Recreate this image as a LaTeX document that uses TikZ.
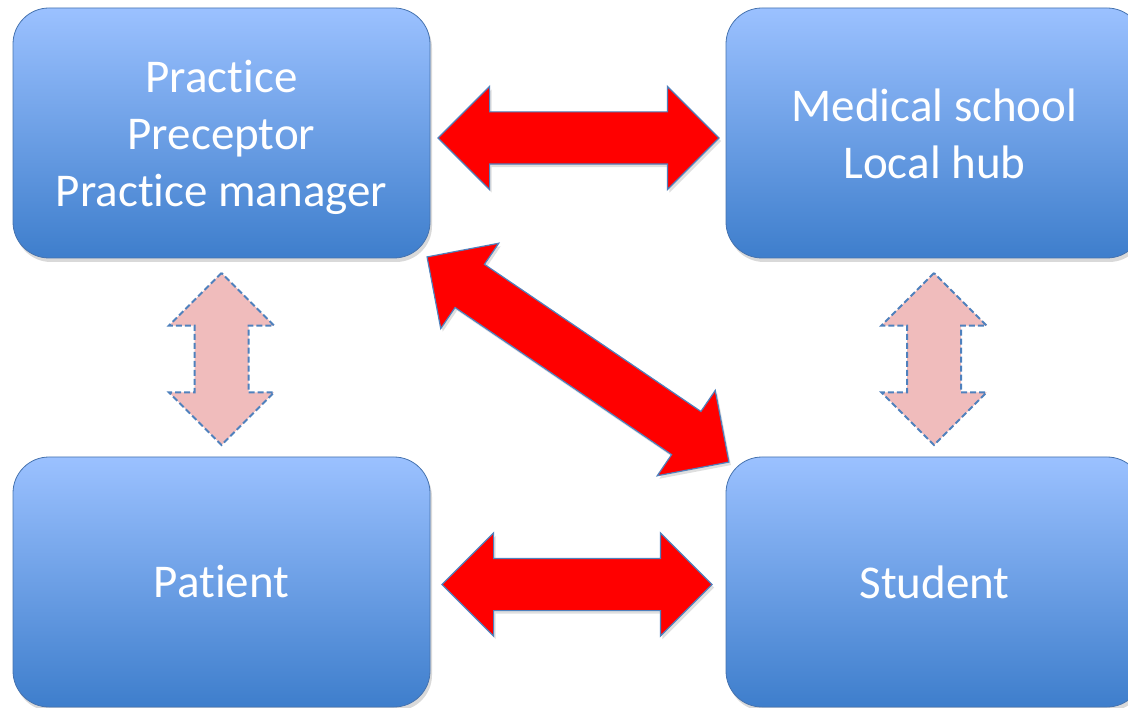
\documentclass[tikz,border=0pt]{standalone}
\usepackage{fontspec}
\setmainfont[RawFeature={-liga;-clig;-calt;-dlig;-rlig}]{Carlito}
\usepackage{tikz}
\usetikzlibrary{positioning,shapes.arrows,shadows}

\definecolor{boxtop}{RGB}{155,193,255}
\definecolor{boxbot}{RGB}{62,126,204}
\definecolor{boxline}{RGB}{70,115,175}
\definecolor{linkpink}{RGB}{240,188,188}
\definecolor{linkline}{RGB}{79,129,189}

\begin{document}
\begin{tikzpicture}[x=1pt, y=-1pt,
    party/.style={rectangle,rounded corners=36pt,minimum width=417pt,minimum height=250pt,
        top color=boxtop,bottom color=boxbot,draw=boxline,line width=0.8pt,
        text=white,align=center,font=\fontsize{47}{57}\selectfont,
        drop shadow={opacity=0.3,shadow xshift=2pt,shadow yshift=-4pt}},
    partytext/.style={text=white,align=center,font=\fontsize{47}{57}\selectfont},
    link/.style={double arrow,inner xsep=0pt,inner ysep=25.5pt,double arrow head extend=25.5pt,
        double arrow tip angle=90,fill=red,draw=linkline,line width=1.2pt,
        drop shadow={opacity=0.25,shadow xshift=2pt,shadow yshift=-3pt}},
    weaklink/.style={double arrow,inner xsep=0pt,inner ysep=26pt,double arrow head extend=25.5pt,
        double arrow tip angle=90,fill=linkpink,draw=linkline,dash pattern=on 6pt off 3pt,line width=2pt,
        minimum height=172pt,rotate=90},
   ]
    \useasboundingbox (0,0) rectangle (1128,708);

    \node (practice) [party] at (221.5,133) {};
    \node (school)   [party] at (934.5,133) {};
    \node (patient)  [party] at (221.5,582) {Patient};
    \node (student)  [party] at (934.5,582) {Student};
    \node (practicetxt) [partytext] at (221.5,137) {Practice\\Preceptor\\Practice manager};
    \node (schooltxt)   [partytext] at (934.5,134) {Medical school\\Local hub};

    % links between the parties
    \node (ps)  [link,minimum height=281pt] at (578.5,138) {};
    \node (pt)  [link,minimum height=270pt] at (577,584.5) {};
    \node (pst) [link,minimum height=365pt,rotate=-34.2] at (578,359.5) {};

    \node (ppt) [weaklink] at (221.5,359) {};
    \node (sst) [weaklink] at (934,359) {};
\end{tikzpicture}
\end{document}
